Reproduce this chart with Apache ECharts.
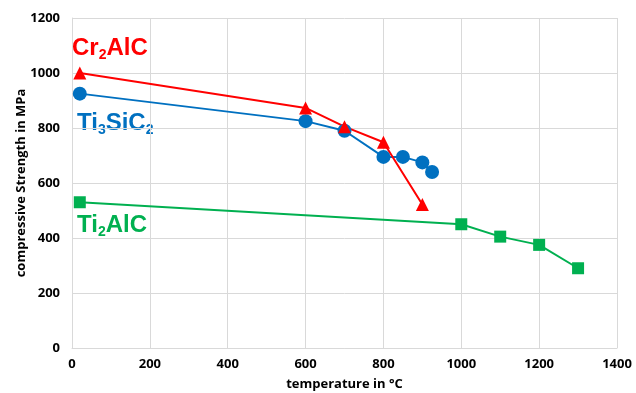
<!DOCTYPE html>
<html>
<head>
<meta charset="utf-8">
<script src="https://cdn.jsdelivr.net/npm/echarts@6/dist/echarts.min.js"></script>
<style>
  html, body { margin: 0; padding: 0; background: #fff; }
  #chart { width: 636px; height: 393px; }
</style>
</head>
<body>
<div id="chart"></div>
<script>
// Werte
const cr2alc = [[20, 1000], [600, 873], [700, 805], [800, 748], [900, 522]];
const ti3sic2 = [[20, 925], [600, 825], [700, 790], [800, 695], [850, 695], [900, 675], [925, 640]];
const ti2alc = [[20, 530], [1000, 450], [1100, 405], [1200, 375], [1300, 290]];

const xName = 'temperature in °C';
const yName = 'compressive Strength in MPa';

const chart = echarts.init(document.getElementById('chart'));

const tickFont = { color: '#000', fontSize: 13, fontWeight: 'bold', fontFamily: 'Open Sans', formatter: v => String(v) };
const gridLine = { lineStyle: { color: '#d9d9d9', width: 1 } };

const labelStyle = (color) => ({
  fontFamily: 'Liberation Sans',
  fontWeight: 'bold',
  fontSize: 24,
  fill: color,
  rich: {
    n: { fontFamily: 'Liberation Sans', fontWeight: 'bold', fontSize: 24, color: color },
    s: { fontFamily: 'Liberation Sans', fontWeight: 'bold', fontSize: 14, color: color, padding: [14, 0, 0, 0] },
  },
});

chart.setOption({
  animation: false,
  grid: { left: 72, right: 19, top: 18, bottom: 45, outerBoundsMode: 'none', containLabel: false },
  xAxis: {
    type: 'value',
    min: 0, max: 1400, interval: 200,
    name: xName,
    nameLocation: 'middle',
    nameGap: 30,
    nameMoveOverlap: false,
    nameTextStyle: { color: '#000', fontSize: 13, fontWeight: 'bold', fontFamily: 'Open Sans' },
    axisLine: { lineStyle: { color: '#d9d9d9' } },
    axisTick: { show: false },
    axisLabel: Object.assign({ margin: 10 }, tickFont),
    splitLine: gridLine,
  },
  yAxis: {
    type: 'value',
    min: 0, max: 1200, interval: 200,
    name: yName,
    nameLocation: 'middle',
    nameGap: 44,
    nameMoveOverlap: false,
    nameTextStyle: { color: '#000', fontSize: 13, fontWeight: 'bold', fontFamily: 'Open Sans' },
    axisLine: { show: true, lineStyle: { color: '#d9d9d9' } },
    axisTick: { show: false },
    axisLabel: Object.assign({ margin: 12 }, tickFont),
    splitLine: gridLine,
  },
  series: [
    {
      name: 'Ti2AlC', type: 'line', data: ti2alc,
      symbol: 'rect', symbolSize: 12,
      lineStyle: { color: '#00B050', width: 2 },
      itemStyle: { color: '#00B050' },
    },
    {
      name: 'Ti3SiC2', type: 'line', data: ti3sic2,
      symbol: 'circle', symbolSize: 14,
      lineStyle: { color: '#0070C0', width: 2 },
      itemStyle: { color: '#0070C0' },
    },
    {
      name: 'Cr2AlC', type: 'line', data: cr2alc,
      symbol: 'triangle', symbolSize: 13,
      lineStyle: { color: '#FF0000', width: 2 },
      itemStyle: { color: '#FF0000' },
    },
  ],
  graphic: [
    { type: 'text', left: 72, top: 36, style: Object.assign(labelStyle('#FF0000'), { text: '{n|Cr}{s|2}{n|AlC}' }) },
    { type: 'text', left: 77, top: 111, style: Object.assign(labelStyle('#0070C0'), { text: '{n|Ti}{s|3}{n|SiC}{s|2}' }) },
    { type: 'text', left: 77, top: 213, style: Object.assign(labelStyle('#00B050'), { text: '{n|Ti}{s|2}{n|AlC}' }) },
  ],
});
</script>
</body>
</html>
